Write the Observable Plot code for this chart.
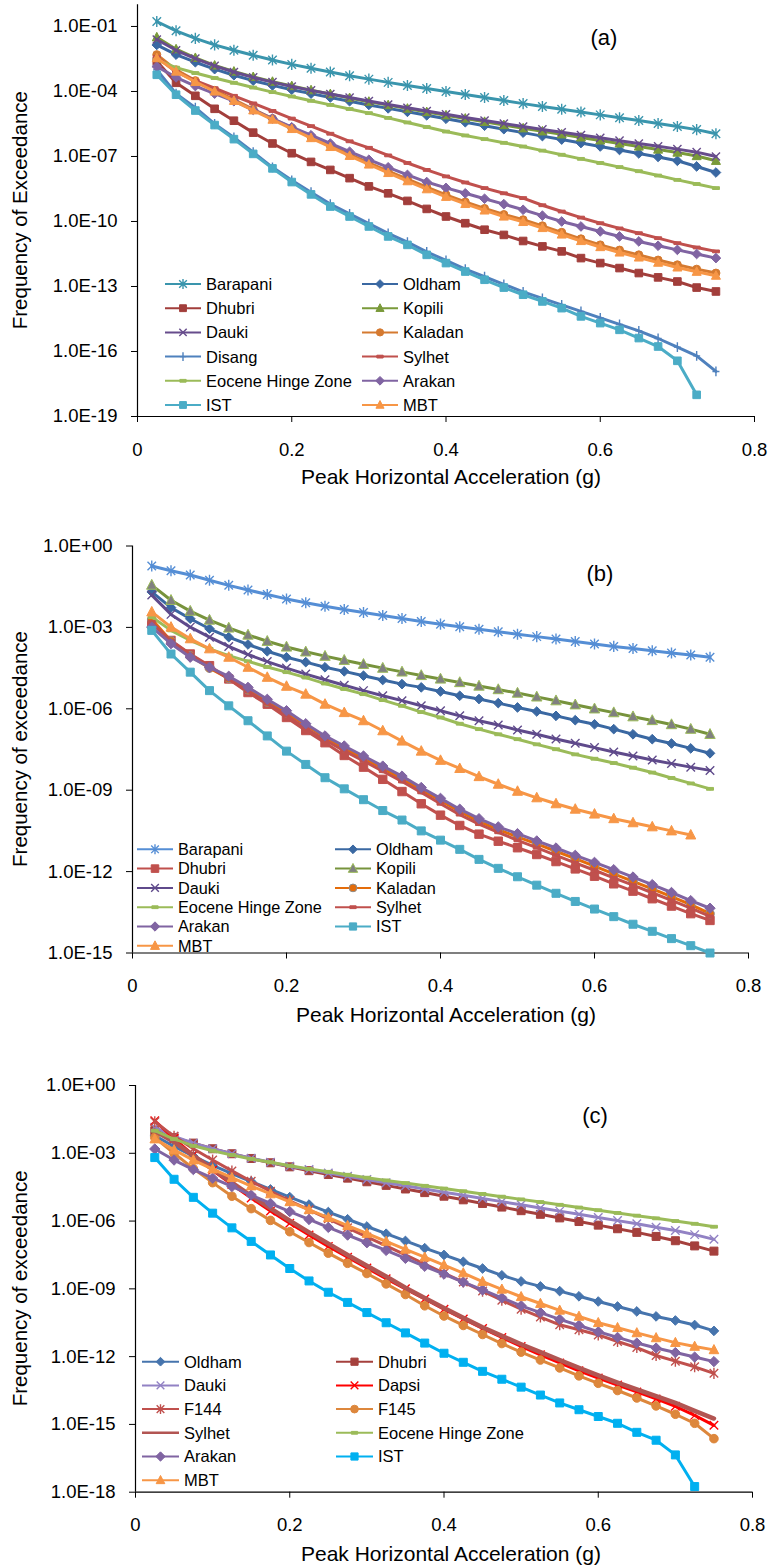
<!DOCTYPE html>
<html><head><meta charset="utf-8">
<script src="https://cdn.jsdelivr.net/npm/d3@7"></script>
<script src="https://cdn.jsdelivr.net/npm/@observablehq/plot@0.6"></script>
<style>
body{margin:0;background:#fff;}
#wrap{position:relative;width:777px;height:1568px;overflow:hidden;background:#fff;}
#wrap svg{position:absolute;left:0;overflow:visible;}
</style></head><body><div id="wrap"></div>
<script>
// Peak horizontal acceleration (g)
const pga = [0.025,0.05,0.075,0.1,0.125,0.15,0.175,0.2,0.225,0.25,0.275,0.3,0.325,0.35,0.375,0.4,0.425,0.45,0.475,0.5,0.525,0.55,0.575,0.6,0.625,0.65,0.675,0.7,0.725,0.75];
const xTicks = [0,0.2,0.4,0.6,0.8];

// ---- Panel (a): log10 of frequency of exceedance ----
const a_Barapani = [-0.77,-1.2,-1.55,-1.85,-2.1,-2.33,-2.55,-2.75,-2.93,-3.1,-3.27,-3.43,-3.58,-3.72,-3.86,-4.0,-4.14,-4.28,-4.42,-4.56,-4.69,-4.82,-4.95,-5.08,-5.21,-5.34,-5.48,-5.62,-5.76,-5.95];
const a_Oldham = [-1.85,-2.3,-2.65,-2.97,-3.25,-3.5,-3.72,-3.92,-4.1,-4.28,-4.45,-4.62,-4.78,-4.94,-5.1,-5.26,-5.42,-5.58,-5.74,-5.9,-6.06,-6.22,-6.38,-6.54,-6.7,-6.86,-7.02,-7.2,-7.46,-7.74];
const a_Dhubri = [-2.6,-3.6,-4.2,-4.8,-5.35,-5.9,-6.4,-6.85,-7.25,-7.62,-8.0,-8.38,-8.7,-9.05,-9.42,-9.77,-10.08,-10.38,-10.62,-10.9,-11.15,-11.38,-11.69,-11.92,-12.15,-12.38,-12.58,-12.77,-13.05,-13.23];
const a_Kopili = [-1.5,-2.05,-2.45,-2.8,-3.08,-3.33,-3.55,-3.75,-3.94,-4.12,-4.3,-4.47,-4.63,-4.79,-4.95,-5.1,-5.25,-5.4,-5.55,-5.7,-5.84,-5.98,-6.12,-6.26,-6.4,-6.54,-6.68,-6.82,-6.98,-7.2];
const a_Dauki = [-1.6,-2.1,-2.48,-2.82,-3.1,-3.35,-3.57,-3.77,-3.95,-4.12,-4.28,-4.44,-4.6,-4.75,-4.9,-5.05,-5.2,-5.34,-5.48,-5.62,-5.75,-5.88,-6.01,-6.14,-6.27,-6.4,-6.53,-6.66,-6.8,-7.0];
const a_Kaladan = [-2.3,-3.0,-3.5,-3.95,-4.38,-4.82,-5.25,-5.68,-6.1,-6.5,-6.9,-7.3,-7.68,-8.05,-8.42,-8.77,-9.1,-9.4,-9.68,-9.92,-10.2,-10.5,-10.8,-11.08,-11.32,-11.54,-11.78,-12.0,-12.2,-12.38];
const a_Disang = [-3.0,-4.1,-4.75,-5.5,-6.12,-6.8,-7.5,-8.1,-8.65,-9.2,-9.65,-10.1,-10.55,-10.95,-11.4,-11.8,-12.2,-12.55,-12.9,-13.25,-13.55,-13.85,-14.15,-14.45,-14.75,-15.05,-15.4,-15.8,-16.2,-16.92];
const a_Sylhet = [-2.4,-3.1,-3.5,-3.85,-4.2,-4.55,-4.9,-5.25,-5.6,-5.95,-6.3,-6.6,-6.95,-7.3,-7.62,-7.92,-8.2,-8.46,-8.7,-8.92,-9.25,-9.54,-9.82,-10.08,-10.32,-10.54,-10.77,-11.0,-11.2,-11.38];
const a_Eocene = [-2.54,-2.9,-3.15,-3.38,-3.6,-3.82,-4.03,-4.23,-4.43,-4.62,-4.81,-5.0,-5.22,-5.43,-5.64,-5.85,-6.03,-6.2,-6.37,-6.54,-6.73,-6.92,-7.11,-7.3,-7.49,-7.68,-7.88,-8.08,-8.27,-8.46];
const a_Arakan = [-2.85,-3.35,-3.75,-4.1,-4.45,-4.85,-5.25,-5.65,-6.02,-6.4,-6.78,-7.15,-7.5,-7.85,-8.18,-8.45,-8.7,-8.95,-9.2,-9.46,-9.73,-10.0,-10.23,-10.46,-10.69,-10.92,-11.12,-11.31,-11.5,-11.69];
const a_IST = [-3.23,-4.15,-4.88,-5.55,-6.2,-6.88,-7.55,-8.18,-8.75,-9.31,-9.77,-10.23,-10.69,-11.08,-11.54,-11.92,-12.31,-12.69,-13.05,-13.38,-13.69,-14.0,-14.38,-14.69,-15.0,-15.38,-15.77,-16.43,-18.0];
const a_MBT = [-2.46,-3.08,-3.56,-4.0,-4.43,-4.87,-5.3,-5.73,-6.15,-6.56,-6.97,-7.37,-7.76,-8.14,-8.51,-8.86,-9.19,-9.49,-9.77,-10.02,-10.3,-10.6,-10.9,-11.18,-11.43,-11.66,-11.9,-12.12,-12.32,-12.5];

// ---- Panel (b) ----
const b_Barapani = [-0.74,-0.91,-1.07,-1.26,-1.45,-1.62,-1.79,-1.95,-2.09,-2.22,-2.34,-2.45,-2.56,-2.67,-2.78,-2.88,-2.98,-3.07,-3.16,-3.25,-3.34,-3.43,-3.52,-3.61,-3.7,-3.78,-3.86,-3.94,-4.02,-4.1];
const b_Oldham = [-1.69,-2.27,-2.68,-3.05,-3.36,-3.63,-3.88,-4.1,-4.28,-4.47,-4.62,-4.78,-4.94,-5.09,-5.21,-5.36,-5.52,-5.64,-5.79,-5.95,-6.1,-6.26,-6.42,-6.57,-6.75,-6.94,-7.12,-7.28,-7.46,-7.64];
const b_Dhubri = [-2.86,-3.48,-3.98,-4.41,-4.9,-5.4,-5.83,-6.32,-6.8,-7.25,-7.72,-8.15,-8.6,-9.05,-9.5,-9.92,-10.3,-10.62,-10.88,-11.12,-11.37,-11.63,-11.9,-12.17,-12.45,-12.72,-13.0,-13.27,-13.55,-13.8];
const b_Kopili = [-1.44,-2.0,-2.4,-2.73,-3.02,-3.28,-3.51,-3.72,-3.9,-4.06,-4.21,-4.36,-4.5,-4.64,-4.77,-4.9,-5.03,-5.16,-5.29,-5.42,-5.56,-5.7,-5.85,-6.0,-6.14,-6.29,-6.43,-6.58,-6.75,-6.94];
const b_Dauki = [-1.81,-2.52,-2.99,-3.36,-3.7,-4.0,-4.26,-4.5,-4.72,-4.93,-5.13,-5.33,-5.52,-5.7,-5.89,-6.07,-6.26,-6.44,-6.6,-6.78,-6.94,-7.11,-7.27,-7.43,-7.59,-7.74,-7.89,-8.02,-8.15,-8.27];
const b_Kaladan = [-2.7,-3.5,-4.05,-4.5,-4.88,-5.3,-5.75,-6.15,-6.6,-7.05,-7.45,-7.82,-8.2,-8.58,-8.98,-9.38,-9.78,-10.15,-10.45,-10.72,-10.98,-11.25,-11.52,-11.8,-12.08,-12.36,-12.64,-12.92,-13.22,-13.55];
const b_Eocene = [-2.62,-3.11,-3.48,-3.79,-4.04,-4.25,-4.46,-4.65,-4.85,-5.07,-5.27,-5.46,-5.68,-5.89,-6.12,-6.32,-6.55,-6.75,-6.94,-7.12,-7.31,-7.49,-7.68,-7.84,-8.0,-8.17,-8.35,-8.55,-8.75,-8.95];
const b_Sylhet = [-2.8,-3.5,-4.0,-4.45,-4.9,-5.35,-5.8,-6.25,-6.72,-7.15,-7.55,-7.92,-8.3,-8.68,-9.08,-9.5,-9.9,-10.25,-10.55,-10.85,-11.12,-11.4,-11.68,-11.95,-12.23,-12.5,-12.78,-13.06,-13.35,-13.65];
const b_Arakan = [-2.99,-3.6,-4.1,-4.47,-4.8,-5.21,-5.65,-6.07,-6.55,-7.0,-7.37,-7.74,-8.11,-8.48,-8.9,-9.3,-9.7,-10.05,-10.35,-10.6,-10.87,-11.13,-11.4,-11.66,-11.93,-12.2,-12.48,-12.77,-13.07,-13.35];
const b_IST = [-3.11,-3.98,-4.65,-5.33,-5.89,-6.44,-7.0,-7.56,-8.05,-8.54,-8.95,-9.35,-9.75,-10.1,-10.5,-10.84,-11.18,-11.55,-11.88,-12.19,-12.5,-12.8,-13.1,-13.38,-13.66,-13.94,-14.2,-14.47,-14.73,-15.0];
const b_MBT = [-2.43,-2.99,-3.42,-3.79,-4.1,-4.47,-4.84,-5.17,-5.46,-5.83,-6.14,-6.44,-6.81,-7.19,-7.56,-7.9,-8.2,-8.5,-8.78,-9.04,-9.28,-9.5,-9.7,-9.88,-10.05,-10.2,-10.35,-10.5,-10.65];

// ---- Panel (c) ----
const c_Oldham = [-2.22,-2.7,-3.13,-3.53,-3.9,-4.25,-4.6,-4.94,-5.27,-5.6,-5.92,-6.24,-6.56,-6.88,-7.2,-7.5,-7.8,-8.1,-8.4,-8.67,-8.89,-9.1,-9.33,-9.56,-9.78,-10.0,-10.22,-10.4,-10.6,-10.86];
const c_Dhubri = [-2.0,-2.3,-2.55,-2.8,-3.02,-3.23,-3.42,-3.6,-3.77,-3.94,-4.1,-4.26,-4.42,-4.58,-4.74,-4.9,-5.06,-5.22,-5.38,-5.54,-5.7,-5.86,-6.02,-6.18,-6.34,-6.5,-6.68,-6.87,-7.1,-7.33];
const c_Dauki = [-1.85,-2.25,-2.55,-2.8,-3.02,-3.22,-3.4,-3.57,-3.72,-3.87,-4.02,-4.16,-4.3,-4.44,-4.58,-4.72,-4.86,-5.0,-5.14,-5.28,-5.42,-5.56,-5.7,-5.84,-5.98,-6.12,-6.27,-6.42,-6.6,-6.81];
const c_Dapsi = [-1.56,-2.35,-3.08,-3.75,-4.38,-4.98,-5.55,-6.1,-6.62,-7.12,-7.6,-8.08,-8.55,-9.0,-9.45,-9.9,-10.33,-10.75,-11.15,-11.55,-11.92,-12.28,-12.63,-12.95,-13.26,-13.56,-13.87,-14.2,-14.6,-15.04];
const c_F144 = [-1.6,-2.25,-2.8,-3.3,-3.78,-4.24,-4.68,-5.1,-5.5,-5.9,-6.3,-6.7,-7.1,-7.5,-7.9,-8.3,-8.7,-9.1,-9.5,-9.9,-10.25,-10.59,-10.81,-11.04,-11.33,-11.6,-11.95,-12.2,-12.45,-12.74];
const c_F145 = [-2.3,-3.0,-3.68,-4.3,-4.9,-5.45,-5.97,-6.47,-6.95,-7.42,-7.87,-8.32,-8.78,-9.25,-9.75,-10.2,-10.62,-11.02,-11.42,-11.8,-12.15,-12.5,-12.85,-13.18,-13.5,-13.83,-14.18,-14.55,-14.95,-15.63];
const c_Sylhet = [-2.0,-2.5,-3.1,-3.7,-4.3,-4.88,-5.44,-5.98,-6.5,-7.0,-7.5,-7.98,-8.45,-8.95,-9.4,-9.85,-10.28,-10.7,-11.08,-11.45,-11.8,-12.15,-12.5,-12.83,-13.15,-13.45,-13.75,-14.05,-14.4,-14.74];
const c_Eocene = [-2.0,-2.37,-2.67,-2.89,-3.08,-3.25,-3.4,-3.55,-3.69,-3.82,-3.95,-4.08,-4.2,-4.32,-4.44,-4.56,-4.68,-4.8,-4.92,-5.04,-5.16,-5.28,-5.4,-5.52,-5.64,-5.76,-5.88,-6.0,-6.12,-6.25];
const c_Arakan = [-2.81,-3.3,-3.72,-4.1,-4.47,-4.85,-5.22,-5.58,-5.93,-6.28,-6.62,-6.96,-7.3,-7.65,-8.0,-8.35,-8.7,-9.05,-9.4,-9.75,-10.05,-10.35,-10.62,-10.9,-11.15,-11.4,-11.62,-11.82,-12.02,-12.22];
const c_IST = [-3.19,-4.15,-4.95,-5.65,-6.3,-6.9,-7.5,-8.1,-8.65,-9.15,-9.6,-10.05,-10.5,-10.95,-11.4,-11.85,-12.25,-12.65,-13.0,-13.35,-13.7,-14.05,-14.35,-14.65,-14.95,-15.35,-15.7,-16.35,-17.75];
const c_MBT = [-2.37,-2.85,-3.3,-3.7,-4.08,-4.45,-4.8,-5.15,-5.5,-5.85,-6.2,-6.55,-6.9,-7.25,-7.6,-7.95,-8.3,-8.68,-9.02,-9.35,-9.65,-9.95,-10.22,-10.5,-10.72,-10.95,-11.17,-11.38,-11.55,-11.7];

const FONT = '"Liberation Sans", Arial, sans-serif';

// marker shapes
const SYM = {
  diamond:{draw(c,s){const r=Math.sqrt(s/Math.PI)*1.15;c.moveTo(0,-r);c.lineTo(r,0);c.lineTo(0,r);c.lineTo(-r,0);c.closePath();}},
  square:{draw(c,s){const r=Math.sqrt(s/Math.PI);c.moveTo(-r,-r);c.lineTo(r,-r);c.lineTo(r,r);c.lineTo(-r,r);c.closePath();}},
  triangle:{draw(c,s){const r=Math.sqrt(s/Math.PI);c.moveTo(0,-r*1.1);c.lineTo(r,r*0.8);c.lineTo(-r,r*0.8);c.closePath();}},
  circle:{draw(c,s){const r=Math.sqrt(s/Math.PI);c.moveTo(r,0);c.arc(0,0,r,0,2*Math.PI);c.closePath();}},
  times:{draw(c,s){const r=Math.sqrt(s/Math.PI)*0.85;c.moveTo(-r,-r);c.lineTo(r,r);c.moveTo(r,-r);c.lineTo(-r,r);}},
  star:{draw(c,s){const r=Math.sqrt(s/Math.PI)*0.85;c.moveTo(-r,-r);c.lineTo(r,r);c.moveTo(r,-r);c.lineTo(-r,r);c.moveTo(0,-r*1.3);c.lineTo(0,r*1.3);}},
  plus:{draw(c,s){const r=Math.sqrt(s/Math.PI);c.moveTo(0,-r*1.4);c.lineTo(0,r*1.4);c.moveTo(-r,0);c.lineTo(r,0);}},
  dash:{draw(c,s){const r=Math.sqrt(s/Math.PI);c.moveTo(-r,-1.4);c.lineTo(r,-1.4);c.lineTo(r,1.4);c.lineTo(-r,1.4);c.closePath();}}
};
const STROKED = new Set(["times","star","plus"]);

const panels = [
  {top:0, height:500, mt:4.3, mb:84, ml:137, mr:23, ymin:1e-19,
   yticks:[1e-19,1e-16,1e-13,1e-10,1e-7,1e-4,1e-1],
   ytitle:"Frequency of Exceedance", tag:"(a)", tagX:604, tagY:37, xtitleY:476, xtitleX:451,
   legend:{y0:284, dy:24.2, cols:[165,362], len:36, fs:16.5},
   series:[
    {name:"Barapani", v:a_Barapani, color:"#3A95AD", sym:"star", r:5},
    {name:"Oldham", v:a_Oldham, color:"#3A68A2", sym:"diamond", r:4.2},
    {name:"Dhubri", v:a_Dhubri, color:"#A23E3B", sym:"square", r:3.8},
    {name:"Kopili", v:a_Kopili, color:"#7A9A3A", sym:"triangle", r:4.5},
    {name:"Dauki", v:a_Dauki, color:"#674C8C", sym:"times", r:4.8},
    {name:"Kaladan", v:a_Kaladan, color:"#D57A30", sym:"circle", r:4},
    {name:"Disang", v:a_Disang, color:"#4F81BD", sym:"plus", r:3.5},
    {name:"Sylhet", v:a_Sylhet, color:"#C0504D", sym:"dash", r:3.5},
    {name:"Eocene Hinge Zone", v:a_Eocene, color:"#9BBB59", sym:"dash", r:3.5},
    {name:"Arakan", v:a_Arakan, color:"#8064A2", sym:"diamond", r:4.2},
    {name:"IST", v:a_IST, color:"#4BACC6", sym:"square", r:3.8},
    {name:"MBT", v:a_MBT, color:"#F79646", sym:"triangle", r:4.5}
   ]},
  {top:500, height:540, mt:45.5, mb:87.5, ml:132, mr:29, ymin:1e-15,
   yticks:[1e-15,1e-12,1e-9,1e-6,1e-3,1],
   ytitle:"Frequency of exceedance", tag:"(b)", tagX:600, tagY:573, xtitleY:1014, xtitleX:446,
   legend:{y0:849.3, dy:19.3, cols:[137,335], len:36, fs:16.3},
   series:[
    {name:"Barapani", v:b_Barapani, color:"#558ED5", sym:"star", r:5},
    {name:"Oldham", v:b_Oldham, color:"#3A68A2", sym:"diamond", r:4.2},
    {name:"Dhubri", v:b_Dhubri, color:"#C0504D", sym:"square", r:4.2},
    {name:"Kopili", v:b_Kopili, color:"#77933C", sym:"triangle", r:5.2, mfill:"#808080", mstroke:"#9BBB59"},
    {name:"Dauki", v:b_Dauki, color:"#5F4A8B", sym:"times", r:5},
    {name:"Kaladan", v:b_Kaladan, color:"#E46C0A", sym:"circle", r:4.3, mfill:"#E46C0A", mstroke:"#8C8C8C"},
    {name:"Eocene Hinge Zone", v:b_Eocene, color:"#9BBB59", sym:"dash", r:3.5},
    {name:"Sylhet", v:b_Sylhet, color:"#C0504D", sym:"dash", r:3.5},
    {name:"Arakan", v:b_Arakan, color:"#8064A2", sym:"diamond", r:4.5},
    {name:"IST", v:b_IST, color:"#4BACC6", sym:"square", r:4},
    {name:"MBT", v:b_MBT, color:"#F79646", sym:"triangle", r:5}
   ]},
  {top:1040, height:528, mt:45, mb:76.3, ml:135, mr:25, ymin:1e-18,
   yticks:[1e-18,1e-15,1e-12,1e-9,1e-6,1e-3,1],
   ytitle:"Frequency of exceedance", tag:"(c)", tagX:595, tagY:1115, xtitleY:1553, xtitleX:451,
   legend:{y0:1361.7, dy:23.7, cols:[142,336], len:37, fs:16.5},
   series:[
    {name:"Oldham", v:c_Oldham, color:"#4674AD", sym:"diamond", r:4.2},
    {name:"Dhubri", v:c_Dhubri, color:"#A5403D", sym:"square", r:4},
    {name:"Dauki", v:c_Dauki, color:"#9282C4", sym:"times", r:5},
    {name:"Dapsi", v:c_Dapsi, color:"#FF0000", sym:"times", r:5},
    {name:"F144", v:c_F144, color:"#C0504D", sym:"star", r:5},
    {name:"F145", v:c_F145, color:"#DD873C", sym:"circle", r:4.3},
    {name:"Sylhet", v:c_Sylhet, color:"#B25552", sym:null, lw:4.5},
    {name:"Eocene Hinge Zone", v:c_Eocene, color:"#9BBB59", sym:"dash", r:3.5},
    {name:"Arakan", v:c_Arakan, color:"#8064A2", sym:"diamond", r:4.5},
    {name:"IST", v:c_IST, color:"#00B0F0", sym:"square", r:4},
    {name:"MBT", v:c_MBT, color:"#F79646", sym:"triangle", r:4.8}
   ]}
];

const fmtE = d => { const e = Math.round(Math.log10(d)); return "1.0E" + (e < 0 ? "-" : "+") + String(Math.abs(e)).padStart(2,"0"); };
const wrap = document.getElementById("wrap");

for (const P of panels) {
  const marks = [
    Plot.ruleX([0], {stroke:"#000", strokeWidth:1.2}),
    Plot.ruleY([P.ymin], {stroke:"#000", strokeWidth:1.2}),
    Plot.axisY({ticks:P.yticks, tickFormat:fmtE, tickSize:6, tickPadding:14, label:null, stroke:"#000"}),
    Plot.axisX({ticks:xTicks, tickFormat:d => d === 0 ? "0" : String(d), tickSize:6, tickPadding:20, label:null})
  ];
  for (const s of P.series) {
    const data = s.v.map((v,i) => ({x:pga[i], y:Math.pow(10, v)}));
    marks.push(Plot.line(data, {x:"x", y:"y", stroke:s.color, strokeWidth:s.lw || 3}));
    if (s.sym) {
      const stroked = STROKED.has(s.sym);
      marks.push(Plot.dot(data, {x:"x", y:"y", symbol:SYM[s.sym], r:s.r,
        fill: stroked ? "none" : (s.mfill || s.color),
        stroke: stroked ? s.color : (s.mstroke || s.color),
        strokeWidth: stroked ? 1.4 : 1}));
    }
  }
  const svg = Plot.plot({
    width:777, height:P.height,
    marginTop:P.mt, marginBottom:P.mb, marginLeft:P.ml, marginRight:P.mr,
    x:{domain:[0,0.8]},
    y:{type:"log", domain:[P.ymin,1]},
    style:{fontFamily:FONT, fontSize:"18.5px", color:"#000", background:"transparent", overflow:"visible"},
    marks
  });
  svg.style.top = P.top + "px";
  wrap.appendChild(svg);
  const g = d3.select(svg).append("g").attr("font-family", FONT).attr("fill", "#000").attr("text-anchor","start");
  // panel tag
  g.append("text").attr("x", P.tagX).attr("y", P.tagY - P.top).attr("dy","0.36em")
    .attr("text-anchor","middle").attr("font-size", 22).text(P.tag);
  // axis titles
  g.append("text").attr("x", P.xtitleX).attr("y", P.xtitleY - P.top).attr("dy","0.36em")
    .attr("text-anchor","middle").attr("font-size", 21).text("Peak Horizontal Acceleration (g)");
  const ymid = (P.mt + (P.height - P.mb)) / 2;
  g.append("text").attr("transform", `translate(20,${ymid}) rotate(-90)`).attr("dy","0.36em")
    .attr("text-anchor","middle").attr("font-size", 20.5).text(P.ytitle);
  // legend
  const L = P.legend;
  P.series.forEach((s,i) => {
    const row = Math.floor(i/2), col = i % 2;
    const y = L.y0 + row*L.dy - P.top;
    const x0 = L.cols[col], x1 = x0 + L.len;
    g.append("line").attr("x1",x0).attr("x2",x1).attr("y1",y).attr("y2",y)
      .attr("stroke", s.color).attr("stroke-width", s.lw ? 2.5 : 2);
    if (s.sym) {
      const stroked = STROKED.has(s.sym);
      g.append("path").attr("d", d3.symbol(SYM[s.sym], Math.PI*(s.r*0.9)**2)())
        .attr("transform", `translate(${(x0+x1)/2},${y})`)
        .attr("fill", stroked ? "none" : (s.mfill || s.color))
        .attr("stroke", stroked ? s.color : (s.mstroke || s.color))
        .attr("stroke-width", stroked ? 1.4 : 1);
    }
    g.append("text").attr("x", x1 + 5).attr("y", y).attr("dy","0.36em")
      .attr("text-anchor","start").attr("font-size", L.fs).text(s.name);
  });
}
</script>
</body></html>
